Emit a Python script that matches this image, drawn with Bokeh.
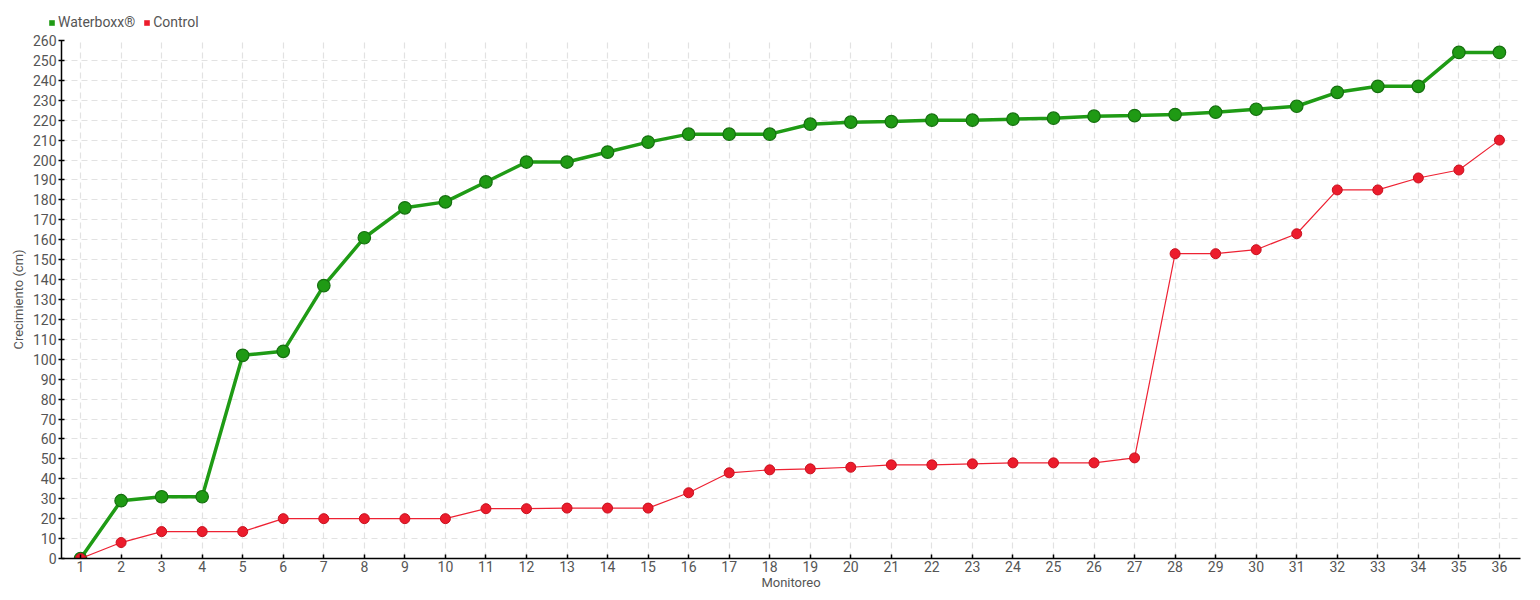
from bokeh.plotting import figure
from bokeh.models import Legend, LegendItem, FixedTicker
from bokeh.layouts import column
from bokeh.embed import file_html
from bokeh.resources import INLINE

monitoreo = list(range(1, 37))
waterboxx = [0, 29, 31, 31, 102, 104, 137, 161, 176, 179, 189, 199, 199, 204, 209, 213,
             213, 213, 218, 219, 219.3, 220, 220, 220.5, 221, 222, 222.3, 222.8, 224,
             225.5, 227, 234, 237, 237, 254, 254]
control = [0, 8, 13.5, 13.5, 13.5, 20, 20, 20, 20, 20, 25, 25, 25.3, 25.3, 25.3, 33,
           43, 44.5, 45, 45.8, 47, 47, 47.5, 48, 48, 48, 50.5, 153, 153, 155, 163,
           185, 185, 191, 195, 210]
y_ticks = list(range(0, 261, 10))
series_names = ["Waterboxx®", "Control"]

FONT = "Roboto"
TXT = "#555555"
GREEN = "#1f9a14"
RED = "#ec1c2c"

# legend strip
lg = figure(width=1532, height=32, output_backend="svg", toolbar_location=None,
            x_range=(0, 1), y_range=(0, 1),
            min_border_left=0, min_border_right=0, min_border_top=0, min_border_bottom=0)
lg.frame_align = False
lg.axis.visible = False
lg.grid.visible = False
lg.outline_line_color = None
lr1 = lg.quad(left=[-5], right=[-4], bottom=[-5], top=[-4], fill_color=GREEN, line_color=None)
lr2 = lg.quad(left=[-5], right=[-4], bottom=[-5], top=[-4], fill_color=RED, line_color=None)
legend = Legend(items=[
    LegendItem(label=series_names[0], renderers=[lr1]),
    LegendItem(label=series_names[1], renderers=[lr2]),
], orientation="horizontal", location=(48, 2))
legend.glyph_width = 7
legend.glyph_height = 7
legend.label_text_font = FONT
legend.label_text_font_size = "14px"
legend.label_text_color = TXT
legend.label_standoff = 3
legend.spacing = 8
legend.padding = 0
legend.margin = 0
legend.background_fill_alpha = 0
legend.border_line_color = None
lg.add_layout(legend, "center")

p = figure(width=1532, height=560, output_backend="svg", toolbar_location=None,
           x_range=(0.53, 36.52), y_range=(0, 260),
           min_border_left=61, min_border_right=12, min_border_top=8, min_border_bottom=32)
p.frame_align = False
p.outline_line_color = None

p.line(monitoreo, waterboxx, line_color="#1f9b15", line_width=3.5)
p.scatter(monitoreo, waterboxx, size=12.5, fill_color=GREEN, line_color="#15700f", line_width=1.2)
p.line(monitoreo, control, line_color="#ee2233", line_width=1.2)
p.scatter(monitoreo, control, size=10, fill_color=RED, line_color="#c8111f", line_width=1)

for ax in (p.xaxis[0], p.yaxis[0]):
    ax.axis_line_color = "black"
    ax.axis_line_width = 1.5
    ax.major_tick_line_color = "black"
    ax.major_tick_line_width = 1.5
    ax.minor_tick_line_color = None
    ax.major_label_text_font = FONT
    ax.major_label_text_font_size = "14px"
    ax.major_label_text_color = TXT
    ax.axis_label_text_font = FONT
    ax.axis_label_text_font_size = "13px"
    ax.axis_label_text_font_style = "normal"
    ax.axis_label_text_color = TXT

p.xaxis.ticker = FixedTicker(ticks=monitoreo)
p.yaxis.ticker = FixedTicker(ticks=y_ticks)
p.xaxis.major_tick_in = 4
p.xaxis.major_tick_out = 0
p.yaxis.major_tick_in = 3
p.yaxis.major_tick_out = 3
p.xaxis.major_label_standoff = 2
p.yaxis.major_label_standoff = 2
p.xaxis.axis_label = "Monitoreo"
p.xaxis.axis_label_standoff = 0
p.yaxis.axis_label = "Crecimiento (cm)"
p.yaxis.axis_label_standoff = 4

p.xgrid.ticker = FixedTicker(ticks=monitoreo)
p.ygrid.ticker = FixedTicker(ticks=y_ticks)
for g in (p.xgrid[0], p.ygrid[0]):
    g.grid_line_color = "#e2e2e2"
    g.grid_line_dash = "6 4"
    g.grid_line_width = 1.2

layout = column(lg, p, spacing=0)
open("out.html", "w").write(file_html(layout, INLINE))
